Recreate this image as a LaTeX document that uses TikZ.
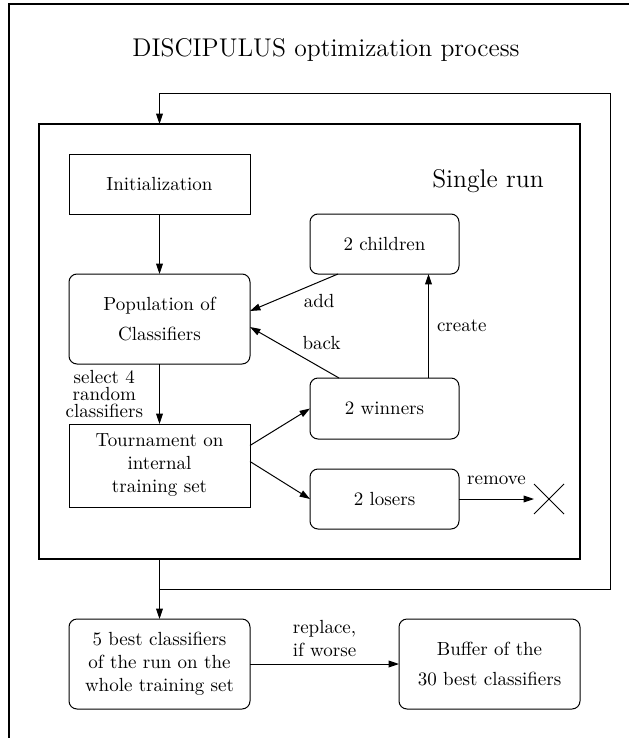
\documentclass[tikz,border=0pt]{standalone}
\usepackage{fontspec}
\usepackage{tikz}
\usetikzlibrary{positioning,arrows.meta,shapes.misc}
\tikzset{
  flow/.style={>={Triangle[length=5.2pt,width=3.4pt]},
    line width=0.5pt,
    x=0.5pt, y=-0.5pt,
    node distance=30pt},
  box/.style={rectangle,draw,outer sep=0pt,inner sep=2pt,align=center,
    font=\fontsize{9.5}{11.5}\selectfont,
    minimum width=90.5pt,minimum height=30pt},
  rbox/.style={box,rounded corners=4pt},
  smallbox/.style={rbox,minimum width=74.5pt},
  runbox/.style={rectangle,draw,line width=0.8pt,inner sep=0pt,outer sep=0pt,
    minimum width=270.5pt,minimum height=217.5pt},
  bin/.style={cross out,draw,inner sep=0pt,outer sep=0pt,minimum size=15pt},
  lbl/.style={inner sep=2pt,align=center,font=\fontsize{9.5}{11.5}\selectfont},
  head/.style={inner sep=0pt,font=\fontsize{12.8}{15}\selectfont},
  frame/.style={line width=0.8pt}
}

\begin{document}
\begin{tikzpicture}[flow]
  \useasboundingbox (0,0) rectangle (629,738);
  \draw[frame] (9,738) -- (9,4) -- (629,4);
  \node[head,anchor=base] (title) at (326,57) {DISCIPULUS optimization process};
  \node[runbox] (run) at (309.5,341.5) {};
  \node[head,anchor=base] (single) at (488,187) {Single run};
  % left column
  \node[box] (init) at (159.5,184) {Initialization};
  \node[rbox,minimum height=45pt,font=\fontsize{9.5}{15}\selectfont] (pop) [below=of init] {Population of\\Classifiers};
  \node[box,minimum height=41.5pt] (tourn) [below=of pop] {Tournament on\\internal\\training set};
  % right column
  \node[smallbox,minimum height=30.5pt] (win) at (384.5,408.5) {2 winners};
  \node[smallbox] (child) [above=52pt of win] {2 children};
  \node[smallbox] (lose) [below=15pt of win] {2 losers};
  \node[bin] (trash) at (549,499) {};
  % after the run
  \node[rbox,minimum height=45pt] (best) [below=56pt of tourn] {5 best classifiers\\of the run on the\\whole training set};
  \node[rbox,minimum height=45pt,font=\fontsize{9.5}{15}\selectfont] (buf) [right=74.5pt of best] {Buffer of the\\30 best classifiers};
  \coordinate (loopB) at (610,589);
  \coordinate (loopT) at (610,94);

  \draw[->] (init) -- (pop);
  \draw[->] (pop) -- node[lbl,left=6pt,font=\fontsize{9.5}{8.4}\selectfont] (sel) {select 4\\random\\classifiers} (tourn);
  \draw[->] ([yshift=10pt]tourn.east) -- (win.west);
  \draw[->] ([yshift=2pt]tourn.east) -- (lose.west);
  \draw[->] ([xshift=22pt]win.north) -- node[lbl,right=2pt] (createl) {create} ([xshift=22pt]child.south);
  \draw[->] ([xshift=14pt]child.south west) -- node[lbl,pos=0.44,below right] (addl) {add} ([yshift=4pt]pop.east);
  \draw[->] ([xshift=14.5pt]win.north west) -- node[lbl,pos=0.46,above right] (backl) {back} ([yshift=-4pt]pop.east);
  \draw[->] (lose) -- node[lbl,above=5pt] (removel) {remove} (trash);
  \draw[->] (best |- run.south) -- (best);
  \draw[->] (best |- loopB) -- (loopB) -- (loopT) -| (best |- run.north);
  \draw[->] (best) -- node[lbl,above=1.5pt] (replacel) {replace,\\if worse} (buf);
\end{tikzpicture}
\end{document}
